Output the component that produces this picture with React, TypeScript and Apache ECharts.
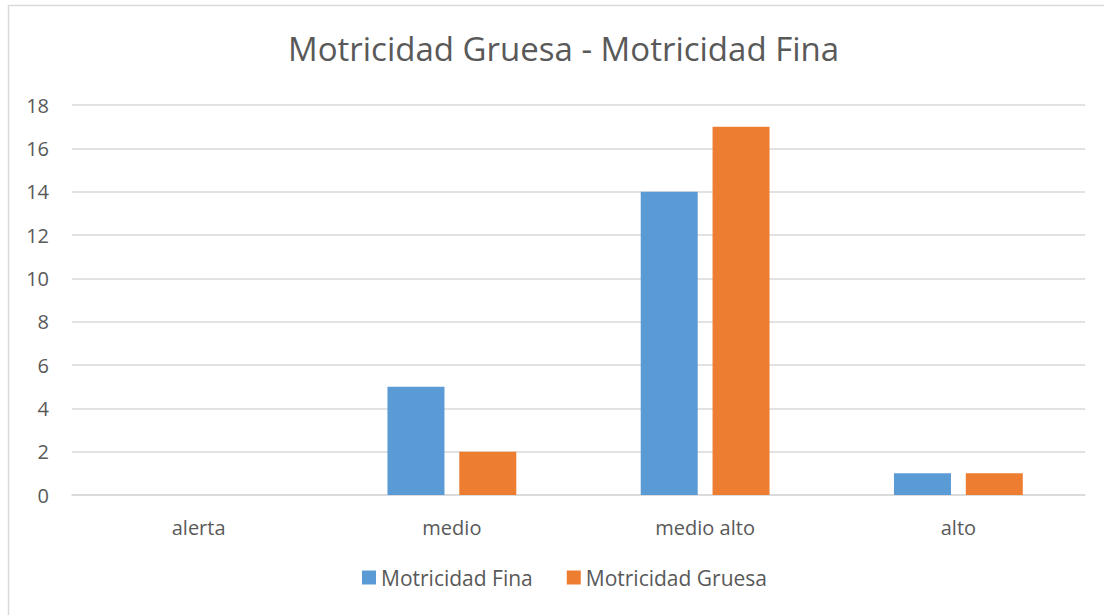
import React, { useEffect, useRef } from "react";
import * as echarts from "echarts";

const categories = ["alerta", "medio", "medio alto", "alto"];
const fina = [0, 5, 14, 1];
const gruesa = [0, 2, 17, 1];
const titleText = "Motricidad Gruesa - Motricidad Fina";

export default function App() {
  const ref = useRef<HTMLDivElement>(null);
  useEffect(() => {
    const chart = echarts.init(ref.current!, null, { renderer: "svg" });
    const font = "'Open Sans', 'Liberation Sans', sans-serif";
    chart.setOption({
      animation: false,
      backgroundColor: "#ffffff",
      title: {
        text: titleText,
        left: 283,
        top: 27,
        textStyle: { fontFamily: font, fontSize: 33, fontWeight: "normal", color: "#595959" },
      },
      graphic: [
        {
          type: "rect",
          shape: { x: 8.5, y: 5.5, width: 1200, height: 700 },
          style: { fill: "none", stroke: "#d9d9d9", lineWidth: 1.5 },
          silent: true,
        },
      ],
      legend: {
        bottom: 22,
        left: 357,
        itemWidth: 14,
        itemHeight: 14,
        itemGap: 34,
        icon: "rect",
        textStyle: { fontFamily: font, fontSize: 21, color: "#595959" },
        data: ["Motricidad Fina", "Motricidad Gruesa"],
      },
      grid: { left: 72, right: 19, top: 105, bottom: 120, containLabel: false },
      xAxis: {
        type: "category",
        data: categories,
        axisLine: { show: true, lineStyle: { color: "#d9d9d9", width: 1.5 } },
        axisTick: { show: false },
        axisLabel: { fontFamily: font, fontSize: 20, color: "#595959", margin: 22 },
      },
      yAxis: {
        type: "value",
        min: 0,
        max: 18,
        interval: 2,
        axisLine: { show: false },
        axisTick: { show: false },
        splitLine: { lineStyle: { color: "#d9d9d9", width: 1.5 } },
        axisLabel: { fontFamily: font, fontSize: 20, color: "#595959", margin: 23 },
      },
      series: [
        {
          name: "Motricidad Fina",
          type: "bar",
          data: fina,
          barWidth: 57,
          barGap: "26%",
          itemStyle: { color: "#5b9bd5" },
        },
        {
          name: "Motricidad Gruesa",
          type: "bar",
          data: gruesa,
          barWidth: 57,
          itemStyle: { color: "#ed7d31" },
        },
      ],
    });
    return () => chart.dispose();
  }, []);
  return (
    <div
      ref={ref}
      style={{ position: "absolute", left: 0, top: 0, width: 1104, height: 615 }}
    />
  );
}
